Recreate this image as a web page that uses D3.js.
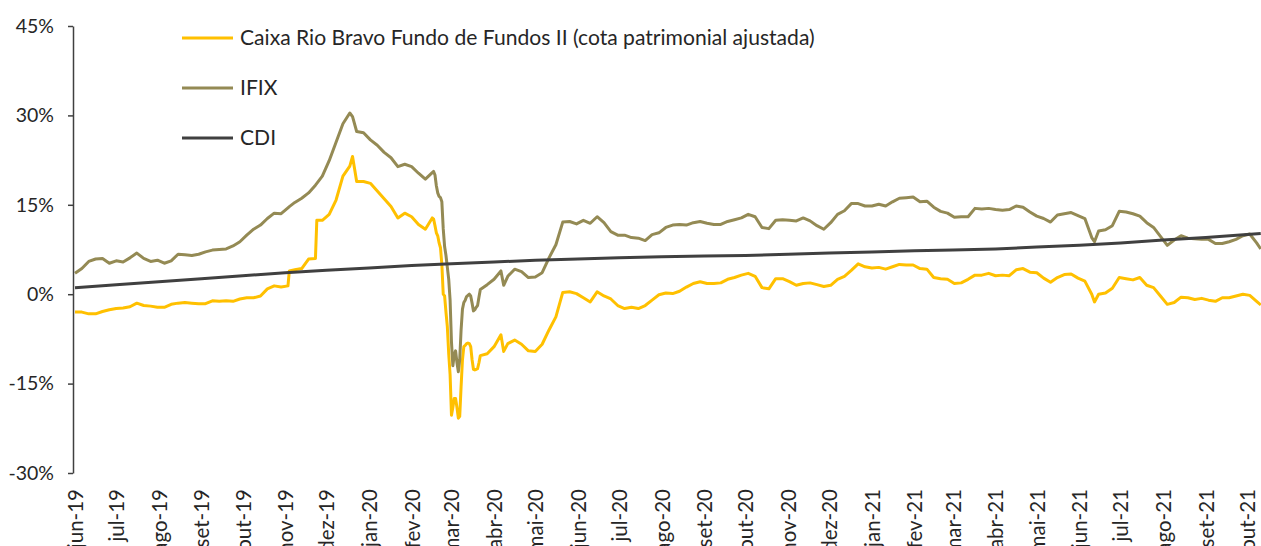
<!DOCTYPE html>
<html>
<head>
<meta charset="utf-8">
<script src="https://cdn.jsdelivr.net/npm/d3@7"></script>
<style>
  body { margin: 0; background: #fff; }
  text { font-family: Lato, "Open Sans", sans-serif; fill: #262626; }
</style>
</head>
<body>
<div id="chart"></div>
<script>
const width = 1261;
const height = 546;

const margin = {top: 26, left: 73, bottom: 473, right: 1261};

const seriesNames = ["Caixa Rio Bravo Fundo de Fundos II (cota patrimonial ajustada)", "IFIX", "CDI"];
const colors = ["#FFC000", "#948A54", "#404040"];

const yTicks = [-30, -15, 0, 15, 30, 45];

const tickLabels = ["jun-19", "jul-19", "ago-19", "set-19", "out-19", "nov-19", "dez-19",
  "jan-20", "fev-20", "mar-20", "abr-20", "mai-20", "jun-20", "jul-20", "ago-20", "set-20",
  "out-20", "nov-20", "dez-20", "jan-21", "fev-21", "mar-21", "abr-21", "mai-21", "jun-21",
  "jul-21", "ago-21", "set-21", "out-21"];

// dates shared by the fund and IFIX series (one line per month)
const dates = [
  "2019-06-01", "2019-06-06", "2019-06-11", "2019-06-16", "2019-06-21", "2019-06-26",
  "2019-07-01", "2019-07-06", "2019-07-11", "2019-07-16", "2019-07-21", "2019-07-26", "2019-07-31",
  "2019-08-05", "2019-08-10", "2019-08-15", "2019-08-20", "2019-08-25", "2019-08-30",
  "2019-09-04", "2019-09-09", "2019-09-14", "2019-09-19", "2019-09-24", "2019-09-29",
  "2019-10-04", "2019-10-09", "2019-10-14", "2019-10-19", "2019-10-24", "2019-10-29",
  "2019-11-03", "2019-11-04", "2019-11-08", "2019-11-13", "2019-11-18", "2019-11-23", "2019-11-24", "2019-11-28",
  "2019-12-03", "2019-12-08", "2019-12-13", "2019-12-18", "2019-12-20", "2019-12-23", "2019-12-28",
  "2020-01-02", "2020-01-07", "2020-01-12", "2020-01-17", "2020-01-22", "2020-01-27",
  "2020-02-01", "2020-02-06", "2020-02-11", "2020-02-16", "2020-02-17", "2020-02-18", "2020-02-19", "2020-02-20",
  "2020-02-21", "2020-02-22", "2020-02-23", "2020-02-24", "2020-02-25", "2020-02-26", "2020-02-27", "2020-02-28", "2020-02-29",
  "2020-03-01", "2020-03-02", "2020-03-03", "2020-03-04", "2020-03-05", "2020-03-06", "2020-03-07", "2020-03-08",
  "2020-03-09", "2020-03-10", "2020-03-11", "2020-03-12", "2020-03-13", "2020-03-14", "2020-03-15", "2020-03-16",
  "2020-03-17", "2020-03-18", "2020-03-19", "2020-03-20", "2020-03-21", "2020-03-22", "2020-03-27",
  "2020-04-01", "2020-04-06", "2020-04-08", "2020-04-11", "2020-04-16", "2020-04-21", "2020-04-26",
  "2020-05-01", "2020-05-06", "2020-05-11", "2020-05-16", "2020-05-21", "2020-05-26", "2020-05-31",
  "2020-06-05", "2020-06-10", "2020-06-15", "2020-06-20", "2020-06-25", "2020-06-30",
  "2020-07-05", "2020-07-10", "2020-07-15", "2020-07-20", "2020-07-25", "2020-07-30",
  "2020-08-04", "2020-08-09", "2020-08-14", "2020-08-19", "2020-08-24", "2020-08-29",
  "2020-09-03", "2020-09-08", "2020-09-13", "2020-09-18", "2020-09-23", "2020-09-28",
  "2020-10-03", "2020-10-08", "2020-10-13", "2020-10-18", "2020-10-23", "2020-10-28",
  "2020-11-02", "2020-11-07", "2020-11-12", "2020-11-17", "2020-11-22", "2020-11-27",
  "2020-12-02", "2020-12-07", "2020-12-12", "2020-12-17", "2020-12-22", "2020-12-27",
  "2021-01-01", "2021-01-06", "2021-01-11", "2021-01-16", "2021-01-21", "2021-01-26", "2021-01-31",
  "2021-02-05", "2021-02-10", "2021-02-15", "2021-02-20", "2021-02-25",
  "2021-03-02", "2021-03-07", "2021-03-12", "2021-03-17", "2021-03-22", "2021-03-27",
  "2021-04-01", "2021-04-06", "2021-04-11", "2021-04-16", "2021-04-21", "2021-04-26",
  "2021-05-01", "2021-05-06", "2021-05-11", "2021-05-16", "2021-05-21", "2021-05-26", "2021-05-31",
  "2021-06-05", "2021-06-10", "2021-06-12", "2021-06-15", "2021-06-20", "2021-06-25", "2021-06-30",
  "2021-07-05", "2021-07-10", "2021-07-15", "2021-07-20", "2021-07-25", "2021-07-30",
  "2021-08-04", "2021-08-09", "2021-08-14", "2021-08-19", "2021-08-24", "2021-08-29",
  "2021-09-03", "2021-09-08", "2021-09-13", "2021-09-18", "2021-09-23", "2021-09-28",
  "2021-10-03", "2021-10-08", "2021-10-11"
];

// Caixa Rio Bravo Fundo de Fundos II, % accumulated
const caixa = [
  -3.0, -3.0, -3.3, -3.3, -2.9, -2.6,
  -2.4, -2.3, -2.1, -1.5, -1.9, -2.0, -2.2,
  -2.2, -1.7, -1.5, -1.4, -1.5, -1.6,
  -1.6, -1.1, -1.2, -1.1, -1.2, -0.8,
  -0.6, -0.6, -0.3, 0.9, 1.4, 1.2,
  1.4, 3.9, 4.1, 4.3, 5.9, 6.0, 12.4, 12.4,
  13.4, 15.8, 19.8, 21.5, 23.1, 18.9, 18.9,
  18.6, 17.3, 16.0, 14.7, 12.8, 13.6,
  13.0, 11.7, 10.9, 12.8, 12.6, 11.5, 10.3, 9.8,
  8.6, 7.8, 5.0, 0.0, -0.3, -3.0, -5.5, -10.0, -13.5,
  -20.3, -19.0, -17.5, -17.5, -19.0, -20.8, -20.5, -15.5,
  -11.0, -8.8, -8.6, -8.3, -8.2, -8.3, -8.8, -11.0,
  -12.6, -12.7, -12.6, -12.5, -11.5, -10.3, -10.0,
  -8.8, -6.8, -9.6, -8.3, -7.7, -8.4, -9.5,
  -9.6, -8.4, -6.0, -3.8, 0.3, 0.4, 0.1,
  -0.6, -1.3, 0.4, -0.3, -0.8, -1.9,
  -2.4, -2.2, -2.4, -1.9, -1.0, -0.1,
  0.2, 0.1, 0.5, 1.2, 1.8, 2.1,
  1.8, 1.8, 1.9, 2.5, 2.8, 3.2,
  3.5, 3.0, 1.1, 0.9, 2.6, 2.6,
  2.1, 1.5, 1.8, 1.9, 1.6, 1.3,
  1.5, 2.5, 3.0, 4.0, 5.1, 4.6,
  4.4, 4.5, 4.2, 4.6, 5.0, 4.9, 4.9,
  4.3, 4.2, 2.8, 2.6, 2.5,
  1.8, 1.9, 2.5, 3.2, 3.2, 3.5,
  3.1, 3.2, 3.1, 4.1, 4.3, 3.7,
  3.6, 2.7, 2.0, 2.8, 3.3, 3.4, 2.7,
  2.2, 0.0, -1.3, 0.0, 0.2, 1.0, 2.8,
  2.6, 2.4, 2.8, 1.5, 1.1, -0.3,
  -1.7, -1.4, -0.5, -0.6, -0.9, -0.7,
  -1.0, -1.2, -0.6, -0.6, -0.3, 0.0,
  -0.2, -1.2, -1.8
];

// IFIX, % accumulated
const ifix = [
  3.5, 4.3, 5.5, 5.9, 6.0, 5.2,
  5.6, 5.4, 6.1, 6.9, 6.0, 5.5, 5.7,
  5.2, 5.6, 6.7, 6.6, 6.5, 6.7,
  7.1, 7.4, 7.5, 7.6, 8.1, 8.8,
  9.9, 10.9, 11.6, 12.7, 13.6, 13.5,
  14.5, 14.7, 15.4, 16.1, 17.0, 18.3, 18.6, 19.8,
  22.4, 25.5, 28.6, 30.4, 29.8, 27.3, 27.1,
  25.9, 25.0, 23.8, 22.9, 21.4, 21.8,
  21.4, 20.3, 19.3, 20.4, 20.6, 20.0, 18.2, 17.0,
  16.4, 16.2, 15.5, 11.0, 8.0, 6.5, 4.5, 2.5, -1.0,
  -8.0, -12.0, -10.2, -9.5, -11.5, -13.0, -11.0, -6.0,
  -2.5, -1.4, -1.0, -0.4, -0.2, 0.0, -0.3, -1.5,
  -2.8, -2.6, -2.2, -1.9, -0.5, 0.8, 1.6,
  2.5, 3.9, 1.5, 3.0, 4.2, 3.8, 2.8,
  2.9, 3.6, 6.1, 8.3, 12.1, 12.2, 11.8,
  12.4, 11.9, 13.0, 12.0, 10.5, 9.9,
  9.9, 9.5, 9.4, 9.0, 10.0, 10.3,
  11.2, 11.6, 11.7, 11.6, 12.0, 12.2,
  11.9, 11.7, 11.7, 12.2, 12.5, 12.8,
  13.4, 13.0, 11.2, 11.0, 12.4, 12.5,
  12.4, 12.3, 12.8, 12.3, 11.5, 10.9,
  12.0, 13.4, 14.0, 15.2, 15.2, 14.8,
  14.8, 15.1, 14.8, 15.5, 16.1, 16.2, 16.3,
  15.5, 15.6, 14.6, 13.9, 13.6,
  12.9, 13.0, 13.0, 14.4, 14.3, 14.4,
  14.2, 14.1, 14.2, 14.8, 14.6, 13.8,
  13.1, 12.7, 12.1, 13.3, 13.5, 13.7, 13.2,
  12.7, 9.5, 8.8, 10.6, 10.8, 11.5, 13.9,
  13.8, 13.5, 13.1, 12.0, 11.2, 9.7,
  8.2, 9.1, 9.8, 9.4, 9.3, 9.2,
  9.2, 8.5, 8.5, 8.8, 9.2, 9.8,
  10.1, 8.6, 7.6
];

// CDI, % accumulated, month starts and last day
const cdiDates = [
  "2019-06-01", "2019-07-01", "2019-08-01", "2019-09-01", "2019-10-01", "2019-11-01", "2019-12-01",
  "2020-01-01", "2020-02-01", "2020-03-01", "2020-04-01", "2020-05-01", "2020-06-01", "2020-07-01",
  "2020-08-01", "2020-09-01", "2020-10-01", "2020-11-01", "2020-12-01", "2021-01-01", "2021-02-01",
  "2021-03-01", "2021-04-01", "2021-05-01", "2021-06-01", "2021-07-01", "2021-08-01", "2021-09-01",
  "2021-10-01", "2021-10-11"
];
const cdi = [
  1.1, 1.6, 2.1, 2.6, 3.1, 3.6, 4.0,
  4.4, 4.8, 5.1, 5.4, 5.7, 5.9, 6.1,
  6.3, 6.4, 6.5, 6.7, 6.9, 7.1, 7.3,
  7.4, 7.6, 7.9, 8.2, 8.6, 9.1, 9.5,
  10.0, 10.2
];

const parseDate = d3.utcParse("%Y-%m-%d");

const x = d3.scaleUtc()
  .domain([parseDate("2019-06-01"), parseDate("2021-10-01")])
  .range([75, 1247]);

const y = d3.scaleLinear()
  .domain([-30, 45])
  .range([margin.bottom, margin.top]);

const svg = d3.select("#chart")
  .append("svg")
  .attr("width", width)
  .attr("height", height);

const series = [
  {name: seriesNames[0], values: dates.map((d, i) => ({date: parseDate(d), value: caixa[i]}))},
  {name: seriesNames[1], values: dates.map((d, i) => ({date: parseDate(d), value: ifix[i]}))},
  {name: seriesNames[2], values: cdiDates.map((d, i) => ({date: parseDate(d), value: cdi[i]}))}
];

const line = d3.line()
  .x((d) => x(d.date))
  .y((d) => y(d.value));

svg.append("clipPath")
  .attr("id", "plot-clip")
  .append("rect")
  .attr("x", margin.left)
  .attr("y", 0)
  .attr("width", width - margin.left)
  .attr("height", height);

svg.append("g")
  .attr("clip-path", "url(#plot-clip)")
  .selectAll("path")
  .data(series)
  .enter()
  .append("path")
  .attr("d", (d) => line(d.values))
  .attr("fill", "none")
  .attr("stroke", (d, i) => colors[i])
  .attr("stroke-width", 3)
  .attr("stroke-linejoin", "round");

// y axis
const yAxis = svg.append("g")
  .attr("transform", `translate(${margin.left},0)`)
  .call(d3.axisLeft(y)
    .tickValues(yTicks)
    .tickSize(5)
    .tickSizeOuter(0)
    .tickPadding(14)
    .tickFormat((d) => `${d}%`));

yAxis.select(".domain").attr("stroke", "#404040").attr("stroke-width", 1.5);
yAxis.selectAll(".tick line").attr("stroke", "#404040").attr("stroke-width", 1.5);
yAxis.selectAll(".tick text")
  .attr("font-family", "Lato, 'Open Sans', sans-serif")
  .attr("font-size", 19.5)
  .attr("fill", "#262626");

// x axis labels, rotated
const tickDates = d3.utcMonth.range(parseDate("2019-06-01"), parseDate("2021-10-02"));

const xAxis = svg.append("g")
  .attr("transform", `translate(0,${margin.bottom})`)
  .call(d3.axisBottom(x)
    .tickValues(tickDates)
    .tickSize(0)
    .tickFormat((d, i) => tickLabels[i]));

xAxis.select(".domain").remove();
xAxis.selectAll(".tick text")
  .attr("font-family", "Lato, 'Open Sans', sans-serif")
  .attr("font-size", 20.5)
  .attr("fill", "#262626")
  .attr("text-anchor", "end")
  .attr("transform", "rotate(-90)")
  .attr("x", -16)
  .attr("y", 0)
  .attr("dy", "0.36em");

// legend
const legend = svg.append("g")
  .attr("transform", "translate(182, 38)");

const legendItem = legend.selectAll("g")
  .data(seriesNames)
  .enter()
  .append("g")
  .attr("transform", (d, i) => `translate(0, ${i * 50})`);

legendItem.append("line")
  .attr("x1", 0)
  .attr("x2", 51)
  .attr("stroke", (d, i) => colors[i])
  .attr("stroke-width", 3);

legendItem.append("text")
  .text((d) => d)
  .attr("x", 58)
  .attr("dy", "0.35em")
  .attr("font-size", 21.1);
</script>
</body>
</html>
